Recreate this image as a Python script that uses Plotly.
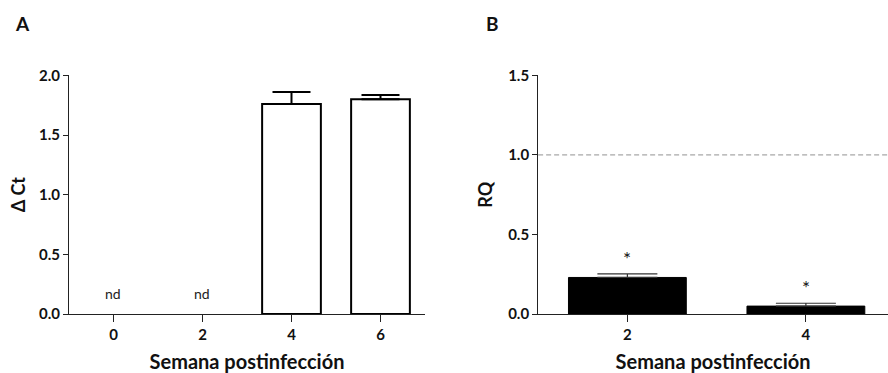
import plotly.graph_objects as go
from plotly.subplots import make_subplots

# Panel A: ΔCt per week post-infection (nd = not detected)
weeks_a = ["0", "2", "4", "6"]
delta_ct = [None, None, 1.76, 1.80]
delta_ct_err = [0, 0, 0.10, 0.035]
nd_weeks = ["0", "2"]
nd_y = 0.17

# Panel B: relative quantification (RQ)
weeks_b = ["2", "4"]
rq = [0.23, 0.05]
rq_err = [0.022, 0.018]
star_y = [0.35, 0.165]
reference_rq = 1.0

font_family = "Lato, 'Open Sans', sans-serif"
axis_col = "#222222"

fig = make_subplots(rows=1, cols=2)

fig.add_trace(go.Bar(
    x=weeks_a, y=delta_ct, width=0.66,
    marker=dict(color="white", line=dict(color="black", width=2)),
    error_y=dict(type="data", array=delta_ct_err, arrayminus=[0] * 4,
                 symmetric=False, color="black", thickness=2, width=19),
    showlegend=False), row=1, col=1)

fig.add_trace(go.Bar(
    x=weeks_b, y=rq, width=0.66,
    marker=dict(color="black", line=dict(color="black", width=1)),
    error_y=dict(type="data", array=rq_err, arrayminus=[0] * 2,
                 symmetric=False, color="#333333", thickness=1.2, width=30),
    showlegend=False), row=1, col=2)

# Dashed reference line at RQ = 1 across panel B
fig.add_shape(type="line", xref="x2 domain", yref="y2",
              x0=0, x1=1, y0=reference_rq, y1=reference_rq,
              line=dict(color="#919191", width=1, dash="5px,3px"))

for w in nd_weeks:
    fig.add_annotation(x=weeks_a.index(w), y=nd_y, text="nd", showarrow=False,
                       xref="x", yref="y",
                       font=dict(family=font_family, size=14, color="#222"))

for w, s in zip(weeks_b, star_y):
    fig.add_annotation(x=weeks_b.index(w), y=s, text="*", showarrow=False,
                       xref="x2", yref="y2",
                       font=dict(family=font_family, size=19, color="#111"))

tick_font = dict(family=font_family, size=15, color="#111", weight="bold")
title_font = dict(family=font_family, size=20, color="#111", weight="bold")

common_x = dict(showline=True, linecolor=axis_col, linewidth=1,
                ticks="outside", ticklen=7, tickcolor=axis_col,
                tickfont=tick_font, showgrid=False, zeroline=False,
                type="category", title_font=title_font, automargin=False)
common_y = dict(showline=True, linecolor=axis_col, linewidth=1,
                ticks="outside", ticklen=5, tickcolor=axis_col,
                tickfont=tick_font, showgrid=False, zeroline=False,
                tickformat=".1f", automargin=False)

fig.update_xaxes(common_x, row=1, col=1, domain=[0.0777, 0.4786],
                 range=[-0.5, 3.5], categoryorder="array", categoryarray=weeks_a,
                 title_text="Semana postinfección", title_standoff=15)
fig.update_xaxes(common_x, row=1, col=2, domain=[0.606, 1.0],
                 range=[-0.5, 1.46], categoryorder="array", categoryarray=weeks_b,
                 title_text="Semana postinfección", title_standoff=15)
fig.update_yaxes(common_y, row=1, col=1, domain=[0.158, 0.798],
                 range=[0, 2.0], dtick=0.5, title_text="Δ Ct", title_standoff=8,
                 title_font=dict(family=font_family, size=18, color="#111",
                                 weight="bold"))
fig.update_yaxes(common_y, row=1, col=2, domain=[0.158, 0.798],
                 range=[0, 1.5], dtick=0.5, title_text="RQ", title_standoff=10,
                 title_font=dict(family=font_family, size=18, color="#111",
                                 weight="bold"))

# Panel letters
for letter, px in (("A", 22), ("B", 492)):
    fig.add_annotation(x=px / 888, y=1 - 23 / 373, xref="paper", yref="paper",
                       xanchor="center", yanchor="middle",
                       text=letter, showarrow=False,
                       font=dict(family=font_family, size=19, color="#111",
                                 weight="bold"))

fig.update_layout(template="none", width=888, height=373,
                  margin=dict(l=0, r=0, t=0, b=0, autoexpand=False),
                  plot_bgcolor="white", paper_bgcolor="white",
                  font=dict(family=font_family, color="#111"), bargap=0.34)

fig.write_html("out.html")
